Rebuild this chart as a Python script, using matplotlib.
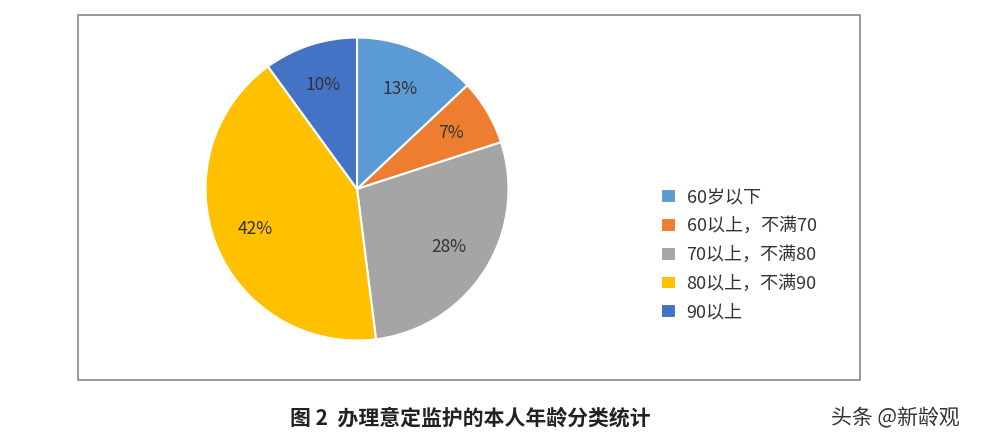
import matplotlib
matplotlib.use("Agg")
import matplotlib.pyplot as plt
from matplotlib.patches import Rectangle

plt.rcParams['font.family'] = ['Noto Sans CJK SC', 'DejaVu Sans']

labels = ["60岁以下", "60以上，不满70", "70以上，不满80", "80以上，不满90", "90以上"]
values = [13, 7, 28, 42, 10]
colors = ["#5B9BD5", "#ED7D31", "#A5A5A5", "#FFC000", "#4472C4"]
caption = "图 2  办理意定监护的本人年龄分类统计"
watermark = "头条 @新龄观"

fig = plt.figure(figsize=(9.82, 4.42), dpi=100)
fig.patches.append(Rectangle((78/982, 62/442), 782/982, 365/442, transform=fig.transFigure,
                             fill=False, edgecolor="#888888", linewidth=1.2))

ax = fig.add_axes([204/982, 100/442, 306/982, 306/442])
wedges, texts, autotexts = ax.pie(values, colors=colors, startangle=90, counterclock=False,
                                  autopct=lambda p: f"{p:.0f}%", pctdistance=0.72,
                                  wedgeprops=dict(edgecolor="white", linewidth=1.5),
                                  textprops=dict(fontsize=12.5, color="#333333"))
ax.set_xlim(-1.01, 1.01); ax.set_ylim(-1.01, 1.01)
ax.set_aspect("equal")
ax.axis("off")

fig.legend(wedges, labels, loc="upper left", bbox_to_anchor=(645/982, (442-172)/442),
           frameon=False, fontsize=13, handlelength=0.8, handleheight=0.8,
           labelspacing=0.6, handletextpad=0.6, labelcolor="#333333")

fig.text(470/982, 24/442, caption, ha="center", va="center", fontsize=15, fontweight="bold", color="#222222")
fig.text(895/982, 24/442, watermark, ha="center", va="center", fontsize=15, color="#333333")

fig.savefig("out.png", dpi=100, facecolor="white")
